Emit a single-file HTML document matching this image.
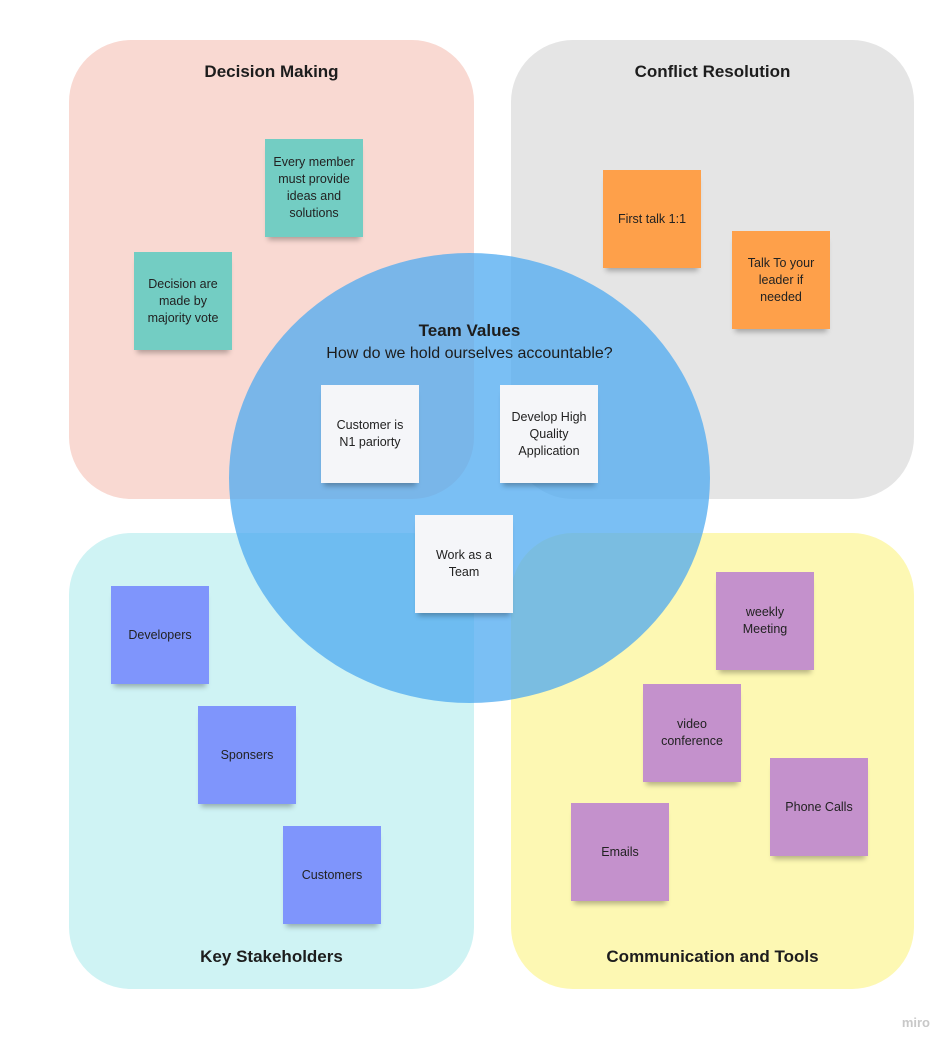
<!DOCTYPE html>
<html><head><meta charset="utf-8"><style>
body{margin:0;width:952px;height:1049px;background:#fff;position:relative;overflow:hidden;font-family:"Liberation Sans",sans-serif;}
.q{position:absolute;border-radius:62px;}
.t{position:absolute;font-weight:bold;font-size:17px;color:#1d1d1d;text-align:center;}
.n{position:absolute;width:98px;height:98px;box-sizing:border-box;padding:0 9px;display:flex;align-items:center;justify-content:center;text-align:center;font-size:12.5px;line-height:17px;color:#222;box-shadow:0 6px 5px -3px rgba(0,0,0,0.28);}
.c{position:absolute;left:229px;top:253px;width:481px;height:450px;border-radius:50%;background:rgba(78,170,240,0.75);}
.g{background:#73cdc3}.o{background:#fea04a}.w{background:#f5f6f9}.b{background:#7f95fc}.p{background:#c491cc}
</style></head><body>
<div class="q" style="left:69px;top:40px;width:405px;height:459px;background:#f9d9d2"></div>
<div class="q" style="left:511px;top:40px;width:403px;height:459px;background:#e5e5e5"></div>
<div class="q" style="left:69px;top:533px;width:405px;height:456px;background:#cff3f4"></div>
<div class="q" style="left:511px;top:533px;width:403px;height:456px;background:#fdf8b3"></div>
<div class="t" style="left:69px;width:405px;top:62px">Decision Making</div>
<div class="t" style="left:511px;width:403px;top:62px">Conflict Resolution</div>
<div class="t" style="left:69px;width:405px;top:947px">Key Stakeholders</div>
<div class="t" style="left:511px;width:403px;top:947px">Communication and Tools</div>
<div class="n g" style="left:265px;top:139px;padding:0 6px">Every member must provide ideas and solutions</div>
<div class="n g" style="left:134px;top:252px">Decision are made by majority vote</div>
<div class="n o" style="left:603px;top:170px">First talk 1:1</div>
<div class="n o" style="left:732px;top:231px">Talk To your leader if needed</div>
<div class="n b" style="left:111px;top:586px">Developers</div>
<div class="n b" style="left:198px;top:706px">Sponsers</div>
<div class="n b" style="left:283px;top:826px">Customers</div>
<div class="n p" style="left:716px;top:572px">weekly<br>Meeting</div>
<div class="n p" style="left:643px;top:684px">video<br>conference</div>
<div class="n p" style="left:770px;top:758px">Phone Calls</div>
<div class="n p" style="left:571px;top:803px">Emails</div>
<div class="c"></div>
<div class="t" style="left:229px;width:481px;top:321px">Team Values</div>
<div style="position:absolute;left:229px;width:481px;top:345px;text-align:center;font-size:16px;color:#1d1d1d">How do we hold ourselves accountable?</div>
<div class="n w" style="left:321px;top:385px">Customer is<br>N1 pariorty</div>
<div class="n w" style="left:500px;top:385px">Develop High Quality Application</div>
<div class="n w" style="left:415px;top:515px">Work as a<br>Team</div>
<div style="position:absolute;right:22px;top:1015px;font-size:13px;color:#c8c8c8;font-weight:bold">miro</div>
</body></html>
